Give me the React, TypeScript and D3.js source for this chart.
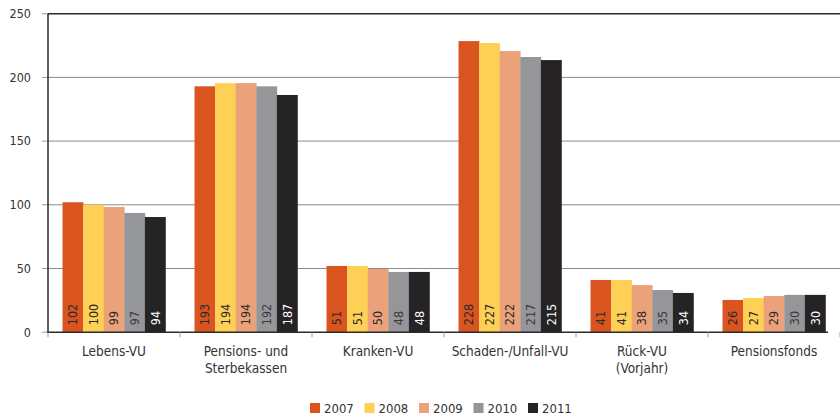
import React from "react";
import * as d3 from "d3";

const categories = ["Lebens-VU", "Pensions- und|Sterbekassen", "Kranken-VU", "Schaden-/Unfall-VU", "Rück-VU|(Vorjahr)", "Pensionsfonds"];
const years = ["2007", "2008", "2009", "2010", "2011"];
// bar heights as drawn
const v2007 = [102, 193, 52, 228.5, 41, 25.3];
const v2008 = [100, 195.5, 52, 227, 41, 26.8];
const v2009 = [98.3, 195.5, 49.6, 220.7, 37, 28.4];
const v2010 = [93.6, 193, 47.3, 216, 33.1, 29.3];
const v2011 = [90.4, 186.2, 47.3, 213.6, 30.8, 29.3];
// printed labels
const l2007 = [102, 193, 51, 228, 41, 26];
const l2008 = [100, 194, 51, 227, 41, 27];
const l2009 = [99, 194, 50, 222, 38, 29];
const l2010 = [97, 192, 48, 217, 35, 30];
const l2011 = [94, 187, 48, 215, 34, 30];
const yTicks = [0, 50, 100, 150, 200, 250];

const colors = ["#DA541F", "#FED156", "#EBA27B", "#959699", "#252324"];
const labelColors = ["#2a2a2a", "#2a2a2a", "#2a2a2a", "#3a3a3a", "#ffffff"];
const values = [v2007, v2008, v2009, v2010, v2011];
const labels = [l2007, l2008, l2009, l2010, l2011];

const FONT = "'Liberation Sans Narrow', 'DejaVu Sans Condensed', 'Open Sans', sans-serif";

export default function App() {
  const W = 840, H = 418;
  const left = 48, right = 840, top = 13.7, bottom = 332.2;
  const x0 = d3.scaleBand().domain(categories).range([left, right]).paddingInner(0.22).paddingOuter(0.11);
  const x1 = d3.scaleBand().domain(years).range([0, x0.bandwidth()]).padding(0);
  const y = d3.scaleLinear().domain([0, 250]).range([bottom, top]);
  const step = x0.step();
  const tickXs = d3.range(categories.length + 1).map((i) => left + i * step);

  return (
    <svg width={W} height={H} style={{ position: "absolute", left: 0, top: 0, fontFamily: FONT }}>
      {yTicks.filter((t) => t > 0 && t < 250).map((t) => (
        <line key={"g" + t} x1={left} x2={right} y1={y(t)} y2={y(t)} stroke="#8a8a8a" strokeWidth={1} />
      ))}
      <line x1={left} x2={right} y1={y(250)} y2={y(250)} stroke="#2a2a2a" strokeWidth={1.5} />
      {yTicks.map((t) => (
        <g key={"t" + t}>
          <line x1={42} x2={left} y1={y(t)} y2={y(t)} stroke="#9a9a9a" strokeWidth={1} />
          <text x={31} y={y(t)} dy="0.35em" textAnchor="end" fontSize={12.5} fill="#333">{t}</text>
        </g>
      ))}
      {categories.map((c, ci) => (
        <g key={c} transform={`translate(${x0(c)},0)`}>
          {years.map((yr, si) => {
            const v = values[si][ci];
            const bx = x1(yr)!;
            const bw = x1.bandwidth();
            return (
              <g key={yr}>
                <rect x={bx} y={y(v)} width={bw + 0.3} height={bottom - y(v)} fill={colors[si]} />
                <text
                  transform={`translate(${bx + bw / 2},${bottom - 7}) rotate(-90)`}
                  dy="0.35em"
                  fontSize={12.5}
                  fill={labelColors[si]}
                >
                  {labels[si][ci]}
                </text>
              </g>
            );
          })}
          {c.split("|").map((ln, li) => (
            <text key={li} x={x0.bandwidth() / 2} y={356 + li * 17} textAnchor="middle" fontSize={13.5} fill="#333">
              {ln}
            </text>
          ))}
        </g>
      ))}
      <line x1={left} x2={left} y1={top} y2={bottom} stroke="#2a2a2a" strokeWidth={1.5} />
      <line x1={left - 1} x2={828} y1={bottom} y2={bottom} stroke="#2a2a2a" strokeWidth={1.5} />
      {tickXs.map((tx, i) => (
        <line key={"xt" + i} x1={tx} x2={tx} y1={bottom} y2={bottom + 5} stroke="#9a9a9a" strokeWidth={1} />
      ))}
      {years.map((yr, i) => {
        const lx = [310, 370, 419, 473, 529][0] + i * 54.5;
        return (
          <g key={"l" + yr}>
            <rect x={lx} y={403} width={10} height={10} fill={colors[i]} />
            <text x={lx + 14} y={408} dy="0.35em" fontSize={13} fill="#333">{yr}</text>
          </g>
        );
      })}
    </svg>
  );
}
